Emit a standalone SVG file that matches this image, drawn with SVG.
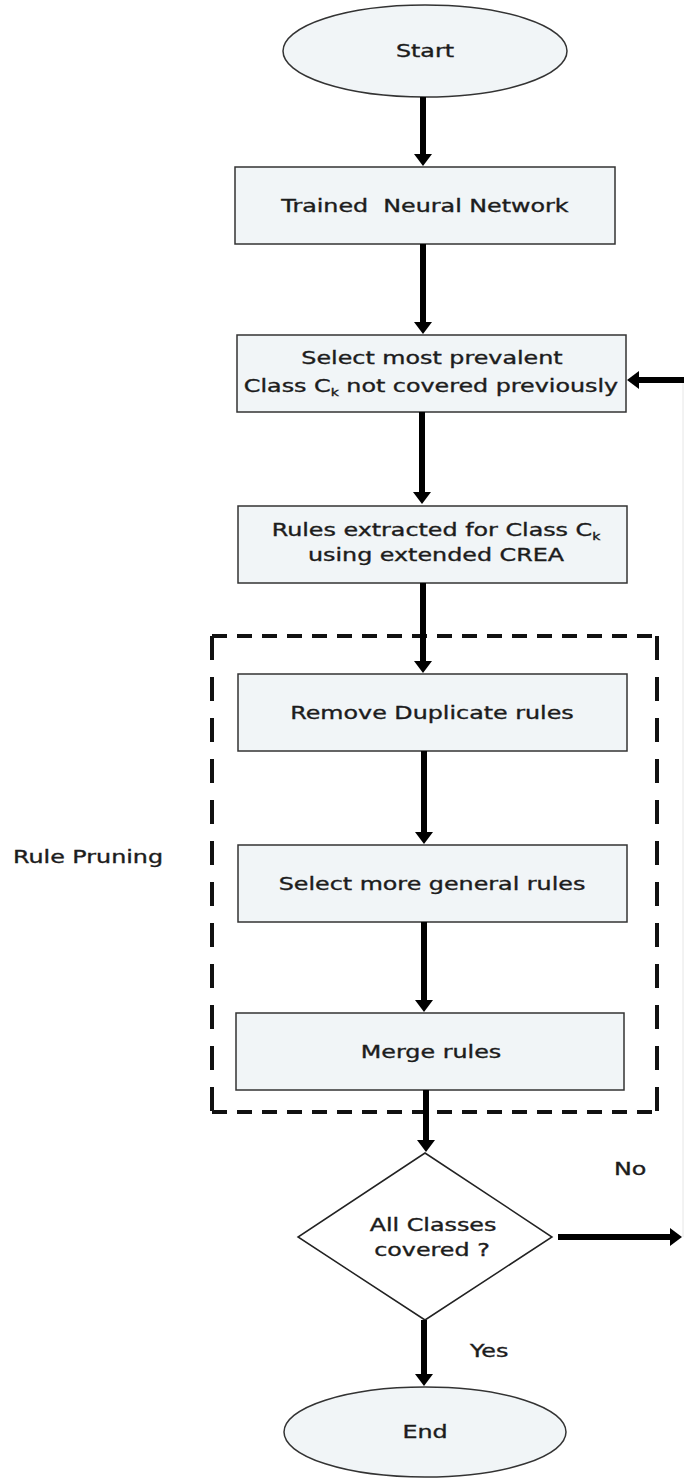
<svg xmlns="http://www.w3.org/2000/svg" width="684" height="1483" viewBox="0 0 684 1483">
<style>
.node{fill:#f1f5f7;stroke:#333;stroke-width:1.5}
.dia{fill:#fff;stroke:#222;stroke-width:1.5}
.t{font-family:"DejaVu Sans",Verdana,sans-serif;font-size:17px;fill:#1c1c1c;stroke:#1c1c1c;stroke-width:0.35;text-anchor:middle}
.tl{font-family:"DejaVu Sans",Verdana,sans-serif;font-size:17px;fill:#1c1c1c;stroke:#1c1c1c;stroke-width:0.35}
.sub{font-size:10px}
.c{stroke:#000;stroke-width:6;fill:none}
.dh{stroke:#111;stroke-width:4;stroke-dasharray:15 10;fill:none}
.dv{stroke:#111;stroke-width:4;stroke-dasharray:24 17;fill:none}
</style>
<defs>
<marker id="ah" markerUnits="userSpaceOnUse" markerWidth="12" markerHeight="18" refX="3" refY="9" orient="auto">
<path d="M0,0 L12,9 L0,18 z" fill="#000"/>
</marker>
</defs>
<rect width="684" height="1483" fill="#fff"/>

<g id="start">
<ellipse class="node" cx="425" cy="51" rx="142" ry="46"/>
<text class="t" transform="matrix(1.4 0 0 1 425 0)" x="0" y="57">Start</text>
</g>

<g id="trained">
<rect class="node" x="235" y="167" width="380" height="77"/>
<text class="t" style="white-space:pre" xml:space="preserve" transform="matrix(1.4 0 0 1 425 0)" x="0" y="212">Trained  Neural Network</text>
</g>

<g id="select-class">
<rect class="node" x="237" y="335" width="389" height="77"/>
<text class="t" transform="matrix(1.4 0 0 1 432 0)" x="0" y="364">Select most prevalent</text>
<text class="t" transform="matrix(1.4 0 0 1 431 0)" x="0" y="392">Class C<tspan class="sub" dy="4">k</tspan><tspan dy="-4"> not covered previously</tspan></text>
</g>

<g id="extract">
<rect class="node" x="238" y="506" width="389" height="77"/>
<text class="t" transform="matrix(1.4 0 0 1 436 0)" x="0" y="536">Rules extracted for Class C<tspan class="sub" dy="4">k</tspan></text>
<text class="t" transform="matrix(1.4 0 0 1 436 0)" x="0" y="561">using extended CREA</text>
</g>

<g id="rule-pruning">
<line class="dh" x1="212" y1="636" x2="657" y2="636"/>
<line class="dh" x1="212" y1="1112" x2="657" y2="1112"/>
<line class="dv" x1="212" y1="636" x2="212" y2="1112"/>
<line class="dv" x1="657" y1="636" x2="657" y2="1112"/>
<text class="tl" transform="matrix(1.4 0 0 1 13 0)" x="0" y="863">Rule Pruning</text>
</g>

<g id="remove-dup">
<rect class="node" x="238" y="674" width="389" height="77"/>
<text class="t" transform="matrix(1.4 0 0 1 432 0)" x="0" y="719">Remove Duplicate rules</text>
</g>

<g id="select-general">
<rect class="node" x="238" y="845" width="389" height="77"/>
<text class="t" transform="matrix(1.4 0 0 1 432 0)" x="0" y="890">Select more general rules</text>
</g>

<g id="merge">
<rect class="node" x="236" y="1013" width="388" height="77"/>
<text class="t" transform="matrix(1.4 0 0 1 431 0)" x="0" y="1058">Merge rules</text>
</g>

<g id="decision">
<polygon class="dia" points="425,1153 552,1237 425,1320 298,1237"/>
<text class="t" transform="matrix(1.4 0 0 1 433 0)" x="0" y="1231">All Classes</text>
<text class="t" transform="matrix(1.4 0 0 1 432 0)" x="0" y="1256">covered ?</text>
</g>

<g id="end">
<ellipse class="node" cx="425" cy="1432" rx="141" ry="45"/>
<text class="t" transform="matrix(1.4 0 0 1 425 0)" x="0" y="1438">End</text>
</g>

<g id="connectors">
<line class="c" x1="423" y1="97" x2="423" y2="157" marker-end="url(#ah)"/>
<line class="c" x1="423" y1="244" x2="423" y2="325" marker-end="url(#ah)"/>
<line class="c" x1="422" y1="412" x2="422" y2="495" marker-end="url(#ah)"/>
<line class="c" x1="423" y1="583" x2="423" y2="664" marker-end="url(#ah)"/>
<line class="c" x1="424" y1="751" x2="424" y2="835" marker-end="url(#ah)"/>
<line class="c" x1="424" y1="922" x2="424" y2="1003" marker-end="url(#ah)"/>
<line class="c" x1="426" y1="1090" x2="426" y2="1143" marker-end="url(#ah)"/>
<line class="c" x1="424" y1="1320" x2="424" y2="1377" marker-end="url(#ah)"/>
<line class="c" x1="558" y1="1237" x2="673" y2="1237" marker-end="url(#ah)"/>
<line x1="683" y1="380" x2="683" y2="1237" stroke="#e6e6e6" stroke-width="1"/>
<line class="c" x1="684" y1="380" x2="636" y2="380" marker-end="url(#ah)"/>
<text class="tl" transform="matrix(1.4 0 0 1 614 0)" x="0" y="1175">No</text>
<text class="tl" transform="matrix(1.4 0 0 1 470 0)" x="0" y="1357">Yes</text>
</g>
</svg>
